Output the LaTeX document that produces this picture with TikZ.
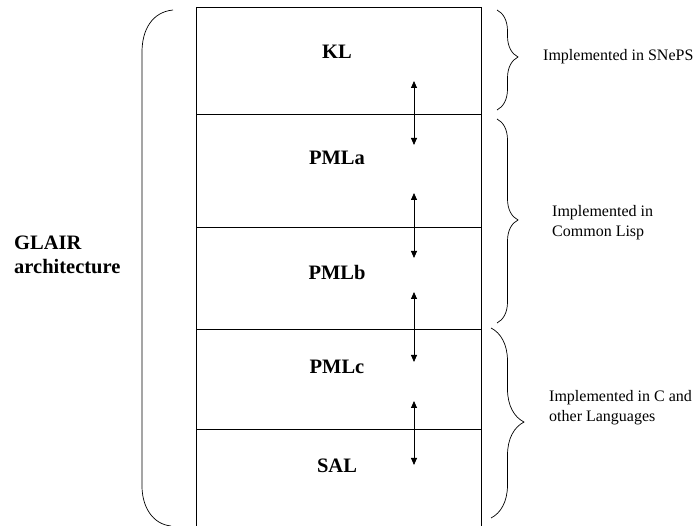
\documentclass[tikz,border=0pt]{standalone}
\usepackage{fontspec}
\setmainfont{Liberation Serif}
\usetikzlibrary{arrows.meta,decorations.pathreplacing}
\tikzset{
  layerline/.style={line width=0.9pt},
  layerlabel/.style={font=\fontsize{20.5}{24}\selectfont\bfseries, inner sep=0pt},
  impltext/.style={font=\fontsize{16}{20}\selectfont, align=left, anchor=west, inner sep=0pt},
  updown/.style={line width=0.8pt, {Triangle[length=7pt,width=6pt]}-{Triangle[length=7pt,width=6pt]}},
  bracegroup/.style={line width=0.7pt, decorate, decoration={brace, amplitude=#1}},
}
\begin{document}
\begin{tikzpicture}[x=1pt,y=-1pt]
\useasboundingbox (0,0) rectangle (694,526);
% main column
\coordinate (tl) at (196,7);
\coordinate (tr) at (481,7);
\coordinate (bl) at (196,526);
\coordinate (br) at (481,526);
\draw[layerline] (bl) -- (tl) -- (tr) -- (br);
\foreach \yy/\nm in {114/a,227/b,329/c,429/d}{
  \coordinate (l\nm) at (196,\yy);
  \coordinate (r\nm) at (481,\yy);
  \draw[layerline] (l\nm) -- (r\nm);
}
% layer labels
\node[layerlabel] (kl) at (337,52) {KL};
\node[layerlabel] (pmla) at (337,158) {PMLa};
\node[layerlabel] (pmlb) at (337,272) {PMLb};
\node[layerlabel] (pmlc) at (337,367) {PMLc};
\node[layerlabel] (sal) at (337,466) {SAL};
% arrows
\coordinate (a1t) at (414,81);  \coordinate (a1b) at (414,145);
\coordinate (a2t) at (414,193); \coordinate (a2b) at (414,258);
\coordinate (a3t) at (414,292); \coordinate (a3b) at (414,362);
\coordinate (a4t) at (414,401); \coordinate (a4b) at (414,465);
\draw[updown] (a1t) -- (a1b);
\draw[updown] (a2t) -- (a2b);
\draw[updown] (a3t) -- (a3b);
\draw[updown] (a4t) -- (a4b);
% left bracket
\coordinate (lbt) at (173,10);
\coordinate (lbb) at (171,526);
\draw[line width=0.7pt] (lbt) .. controls (152,12) and (142,30) .. (142,52)
  -- (142,486) .. controls (142,506) and (152,524) .. (lbb);
\node[font=\fontsize{20.5}{24}\selectfont\bfseries, align=left, anchor=west, inner sep=0pt] (glair) at (14,255) {GLAIR\\architecture};
% right braces
\coordinate (b1t) at (497,10);  \coordinate (b1b) at (497,110);
\coordinate (b2t) at (497,119); \coordinate (b2b) at (497,323);
\coordinate (b3t) at (491,328); \coordinate (b3b) at (491,518);
\draw[bracegroup=21, decoration={aspect=0.47}] (b1t) -- (b1b);
\draw[bracegroup=21, decoration={aspect=0.495}] (b2t) -- (b2b);
\draw[bracegroup=33, decoration={aspect=0.495}] (b3t) -- (b3b);
\node[impltext] (i1) at (543,57) {Implemented in SNePS};
\node[impltext] (i2) at (552,223) {Implemented in\\Common Lisp};
\node[impltext] (i3) at (549,408) {Implemented in C and\\other Languages};
\end{tikzpicture}
\end{document}
